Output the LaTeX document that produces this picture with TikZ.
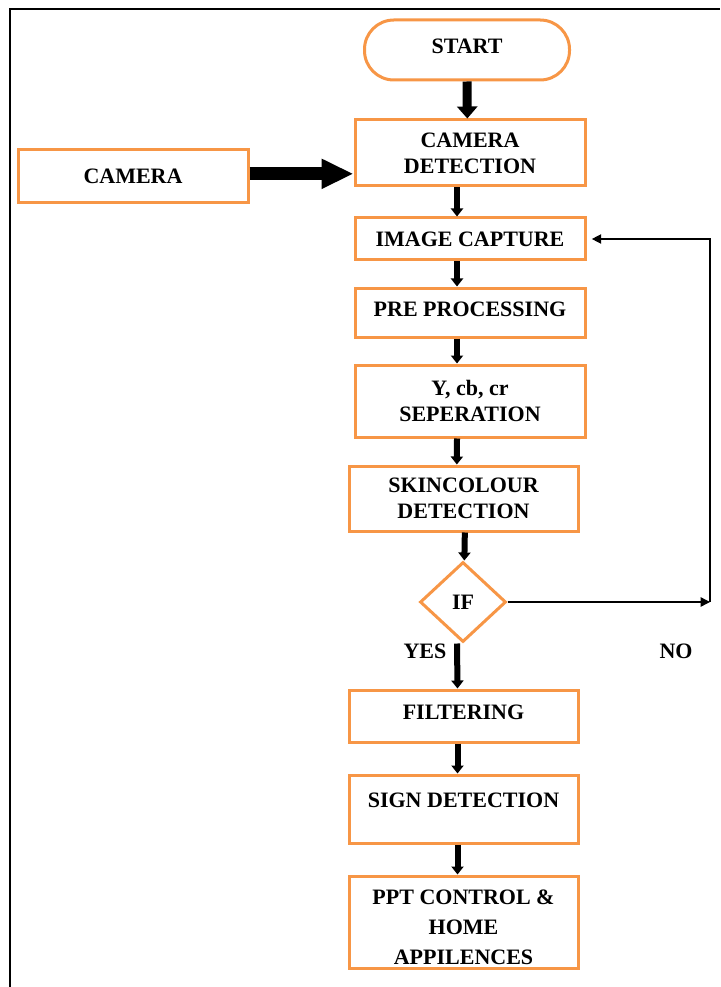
\documentclass[tikz,border=0pt]{standalone}
\usepackage{fontspec}
\setmainfont{Liberation Serif}
\usepackage{xcolor}
\usetikzlibrary{arrows.meta, shapes.geometric, positioning}
\definecolor{boxorange}{RGB}{247,150,70}

\begin{document}
\begin{tikzpicture}[x=0.75pt, y=-0.75pt,
    every node/.style={font=\bfseries\fontsize{16.5}{19.5}\selectfont},
    stepbox/.style={draw=boxorange, line width=2.25pt, fill=white, align=center,
      inner sep=0pt, minimum width=172.5pt},
    flow/.style={line width=4.5pt, -{Triangle[width=9pt,length=6pt]}},
    loopline/.style={line width=1pt, -{Triangle[width=7pt,length=7pt]}}]
  \useasboundingbox (0,0) rectangle (720,987);
  % Frame
  \draw[line width=1.5pt] (10,987) -- (10,9) -- (720,9);
  % Start and camera
  \node[stepbox, rounded corners=22pt, minimum width=153.75pt, minimum height=45pt] (start) at (467,50) {START\\[-14pt]~};
  \node[stepbox, minimum height=49.5pt] (camdet) at (470,153) {CAMERA\\DETECTION};
  \node[stepbox, minimum height=39.75pt] (camera) at (133,176.5) {CAMERA};
  % Processing chain
  \node[stepbox, minimum height=31.5pt] (capture) at (470,239) {IMAGE CAPTURE};
  \node[stepbox, minimum height=36.75pt] (preproc) at (470,312.5) {PRE PROCESSING\\[-14pt]~};
  \node[stepbox, minimum height=54pt] (ycbcr) at (470,401) {Y, cb, cr\\SEPERATION};
  \node[stepbox, minimum width=171.75pt, minimum height=48.75pt] (skin) at (463.5,498.5) {SKINCOLOUR\\DETECTION};
  % Decision
  \node[draw=boxorange, line width=2.25pt, diamond, inner sep=0pt, minimum width=64.5pt, minimum height=60pt] (if) at (463,602) {IF};
  \node (yes) at (425,651) {YES};
  \node (no) at (676,651) {NO};
  % Output chain
  \node[stepbox, minimum width=171.75pt, minimum height=39pt] (filter) at (463.5,716) {FILTERING\\[-14pt]~};
  \node[stepbox, minimum width=171.75pt, minimum height=51pt] (sign) at (463.5,809) {SIGN DETECTION\\[-6pt]~};
  \node[stepbox, minimum width=171.75pt, minimum height=69pt] (ppt) at (463.5,922) {~\\PPT CONTROL \&\\[3pt]HOME\\[3pt]APPILENCES};
  % Arrows
  \draw[line width=6.75pt, -{Triangle[width=15pt,length=9pt]}] (start.south) -- ([xshift=-2pt]camdet.north);
  \draw[line width=10pt, -{Triangle[width=21pt,length=24pt]}] ([yshift=2pt]camera.east) -- ([yshift=2pt]camera.east -| camdet.west);
  \draw[flow] ([xshift=-9.75pt]camdet.south) -- ([xshift=-9.75pt]capture.north);
  \draw[flow] ([xshift=-9.75pt]capture.south) -- ([xshift=-9.75pt]preproc.north);
  \draw[flow] ([xshift=-9.75pt]preproc.south) -- ([xshift=-9.75pt]ycbcr.north);
  \draw[flow] ([xshift=-9.75pt]ycbcr.south) -- ([xshift=-5pt]skin.north);
  \draw[flow] ([xshift=1pt]skin.south) -- ([xshift=1pt]if.north);
  \draw[flow] ([xshift=-4.5pt]if.south) -- ([xshift=-4.5pt]filter.north);
  \draw[flow] ([xshift=-4.5pt]filter.south) -- ([xshift=-4.5pt]sign.north);
  \draw[flow] ([xshift=-4.5pt]sign.south) -- ([xshift=-4.5pt]ppt.north);
  % Loop back on NO
  \coordinate (nobend) at (710,602);
  \draw[loopline] (if.east) -- (nobend);
  \draw[loopline] (nobend) |- ([xshift=4pt]capture.east);
\end{tikzpicture}
\end{document}
